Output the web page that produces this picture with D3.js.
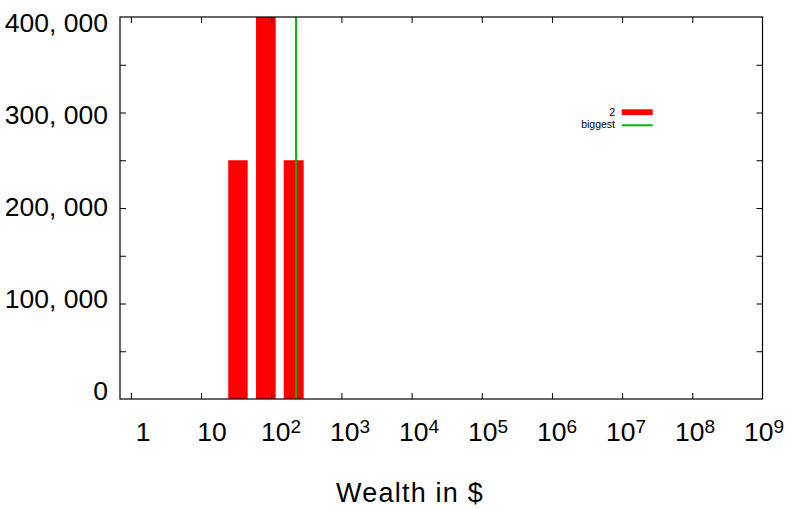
<!DOCTYPE html>
<html>
<head>
<meta charset="utf-8">
<script src="https://cdn.jsdelivr.net/npm/d3@7"></script>
<style>
  html, body { margin: 0; padding: 0; background: #fff; }
  svg { display: block; }
  text { font-family: "Liberation Sans", Arial, sans-serif; fill: #000; }
</style>
</head>
<body>
<svg id="chart" width="786" height="509"></svg>
<script>
// Histogram bins (wealth in $, log scale) and counts per bin
const binLow = [24.4, 60.7, 150.6];
const binHigh = [46.2, 115.8, 290];
const counts = [250000, 400000, 250000];
// Wealth of the richest agent
const biggest = 226;

// Axis ticks
const xTicks = [1, 10, 1e2, 1e3, 1e4, 1e5, 1e6, 1e7, 1e8, 1e9];
const yTicks = [0, 100000, 200000, 300000, 400000];
const yMinorTicks = [50000, 150000, 250000, 350000];

// Legend entries
const seriesNames = ["2", "biggest"];
const seriesColors = ["#ff0000", "#00b400"];

const svg = d3.select("#chart");
const plotL = 120, plotR = 762.5, plotT = 17, plotB = 399;

const x = d3.scaleLog().domain([0.7, 1e9]).range([plotL, plotR]);
const y = d3.scaleLinear().domain([0, 400000]).range([plotB, plotT]);
// Tick label placement scales (labels sit on a slightly tighter grid than the ticks)
const xLabel = d3.scaleLog().domain([100, 1e9]).range([281, 764]);
const yLabel = d3.scaleLinear().domain([0, 400000]).range([399.5, 31.5]);

const clipId = "plotclip";
svg.append("clipPath").attr("id", clipId)
  .append("rect").attr("x", plotL).attr("y", plotT)
  .attr("width", plotR - plotL).attr("height", plotB - plotT);

// Bars
svg.append("g").attr("clip-path", `url(#${clipId})`)
  .selectAll("rect").data(counts).join("rect")
  .attr("x", (d, i) => x(binLow[i]))
  .attr("width", (d, i) => x(binHigh[i]) - x(binLow[i]))
  .attr("y", d => y(d))
  .attr("height", d => y(0) - y(d))
  .attr("fill", seriesColors[0]);

// Vertical marker for the biggest fortune
svg.append("line")
  .attr("x1", x(biggest)).attr("x2", x(biggest))
  .attr("y1", plotT).attr("y2", plotB)
  .attr("stroke", seriesColors[1]).attr("stroke-width", 2);

// Axes: ticks inward on all four sides
const tickLen = 6;
const axisColor = "#000";

function styleAxis(g) {
  g.select(".domain").remove();
  g.selectAll(".tick line").attr("stroke", axisColor).attr("stroke-width", 1);
}

const xTickVisible = xTicks.filter(d => d < 1e9);

svg.append("g").attr("transform", `translate(0,${plotB})`)
  .call(d3.axisBottom(x).tickValues(xTickVisible).tickSize(-tickLen).tickFormat(""))
  .call(styleAxis);
svg.append("g").attr("transform", `translate(0,${plotT})`)
  .call(d3.axisTop(x).tickValues(xTickVisible).tickSize(-tickLen).tickFormat(""))
  .call(styleAxis);

const yAll = yTicks.concat(yMinorTicks).filter(d => d > 0 && d < 400000);
svg.append("g").attr("transform", `translate(${plotL},0)`)
  .call(d3.axisLeft(y).tickValues(yAll).tickSize(-tickLen).tickFormat(""))
  .call(styleAxis);
svg.append("g").attr("transform", `translate(${plotR},0)`)
  .call(d3.axisRight(y).tickValues(yAll).tickSize(-tickLen).tickFormat(""))
  .call(styleAxis);

// Plot border
svg.append("rect")
  .attr("x", plotL).attr("y", plotT)
  .attr("width", plotR - plotL).attr("height", plotB - plotT)
  .attr("fill", "none").attr("stroke", axisColor).attr("stroke-width", 1.2);

// X tick labels: 1, 10, 10^2 ... 10^9
const xl = svg.append("g").attr("class", "xlabels");
xTicks.forEach(d => {
  const e = Math.round(Math.log10(d));
  const t = xl.append("text")
    .attr("x", xLabel(d)).attr("y", 440.5)
    .attr("text-anchor", "middle")
    .style("font-size", "26.5px");
  if (e < 2) {
    t.text(String(d));
  } else {
    t.append("tspan").text("10");
    t.append("tspan").attr("dy", -8).style("font-size", "19px").text(String(e));
  }
});

// Y tick labels
const fmt = d3.format(",");
svg.append("g").selectAll("text").data(yTicks).join("text")
  .attr("x", 108).attr("y", d => yLabel(d))
  .attr("text-anchor", "end")
  .style("font-size", "26.5px")
  .text(d => fmt(d).replace(/,/g, ", "));

// Axis title
svg.append("text")
  .attr("x", 410).attr("y", 502)
  .attr("text-anchor", "middle")
  .style("font-size", "27px")
  .style("letter-spacing", "1.2px")
  .text("Wealth in $");

// Legend
const lg = svg.append("g");
lg.append("text").attr("x", 615).attr("y", 115.7)
  .attr("text-anchor", "end").style("font-size", "10.5px").text(seriesNames[0]);
lg.append("rect").attr("x", 621.7).attr("y", 109.3)
  .attr("width", 31).attr("height", 5.8).attr("fill", seriesColors[0]);
lg.append("text").attr("x", 615).attr("y", 127.7)
  .attr("text-anchor", "end").style("font-size", "10.5px").text(seriesNames[1]);
lg.append("line").attr("x1", 621.7).attr("x2", 652.7)
  .attr("y1", 125.3).attr("y2", 125.3)
  .attr("stroke", seriesColors[1]).attr("stroke-width", 2);
</script>
</body>
</html>
